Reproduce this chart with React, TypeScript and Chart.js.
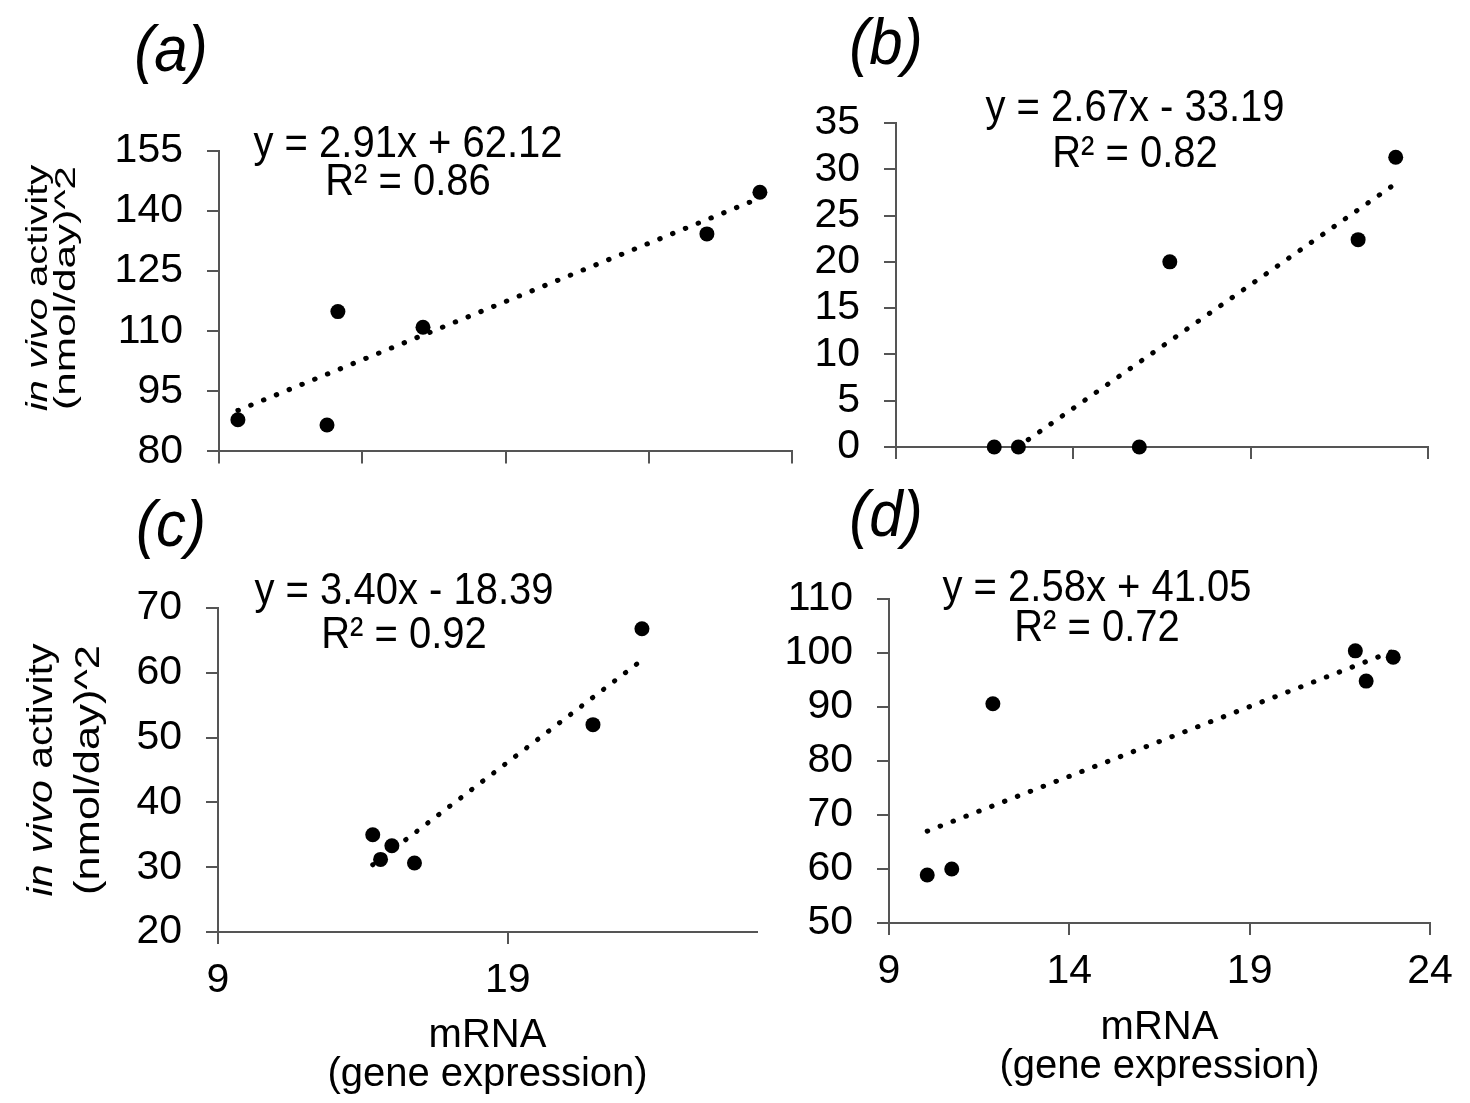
import React, { useEffect, useRef } from 'react';
import { Chart, registerables } from 'chart.js';

Chart.register(...registerables);

const FONT_FAMILY = "'Liberation Sans', Arial, Helvetica, sans-serif";
const AXIS_COLOR = '#555555';

// ---------------- data ----------------
const mrnaA = [9.66, 12.77, 13.15, 16.12, 26.03, 27.88];
const activityA = [87.9, 86.6, 114.9, 111.0, 134.3, 144.7];
const mrnaB = [11.77, 12.45, 15.86, 16.72, 22.03, 23.09];
const activityB = [0, 0, 0, 20.0, 22.4, 31.3];
const mrnaC = [14.34, 14.61, 15.0, 15.78, 21.94, 23.63];
const activityC = [35.0, 31.2, 33.3, 30.65, 52.0, 66.8];
const mrnaD = [10.06, 10.74, 11.88, 21.93, 22.23, 22.98];
const activityD = [58.9, 60.0, 90.6, 100.4, 94.8, 99.2];

const slopes = [2.91, 2.67, 3.4, 2.58];
const intercepts = [62.12, -33.19, -18.39, 41.05];
const rSquared = [0.86, 0.82, 0.92, 0.72];
const panelLabels = ['(a)', '(b)', '(c)', '(d)'];

const xTicksA = [9, 14, 19, 24, 29];
const yTicksA = [80, 95, 110, 125, 140, 155];
const xTicksB = [9, 14, 19, 24];
const yTicksB = [0, 5, 10, 15, 20, 25, 30, 35];
const xTicksC = [9, 19];
const yTicksC = [20, 30, 40, 50, 60, 70];
const xTicksD = [9, 14, 19, 24];
const yTicksD = [50, 60, 70, 80, 90, 100, 110];
const xMaxC = 27.6;

const yTitleItalic = 'in vivo';
const yTitleNormal = ' activity';
const yTitleLine2 = '(nmol/day)^2';
const xTitleLines = ['mRNA', '(gene expression)'];

// ---------------- layout ----------------
interface Box { left: number; top: number; width: number; height: number }
interface Area { l: number; t: number; r: number; b: number }
interface YTitle { x1: number; x2: number; y: number; size: number; sy: number }
interface PanelDef {
  i: number;
  xs: number[];
  ys: number[];
  xTicks: number[];
  yTicks: number[];
  xMin: number;
  xMax: number;
  showXLabels: boolean;
  showXTitle: boolean;
  canvas: Box;
  area: Area;
  xAxisH: number;
  xTitlePadBottom: number;
  letterPos: [number, number];
  eqX: number;
  eqY: [number, number];
  yTitle?: YTitle;
}

const panels: PanelDef[] = [
  {
    i: 0, xs: mrnaA, ys: activityA, xTicks: xTicksA, yTicks: yTicksA,
    xMin: xTicksA[0], xMax: xTicksA[xTicksA.length - 1],
    showXLabels: false, showXTitle: false,
    canvas: { left: 0, top: 0, width: 800, height: 500 },
    area: { l: 219, t: 151, r: 792, b: 456 },
    xAxisH: 30, xTitlePadBottom: 0,
    letterPos: [171, 71], eqX: 408, eqY: [157, 195],
    yTitle: { x1: 39, x2: 67, y: 288, size: 40, sy: 0.72 },
  },
  {
    i: 1, xs: mrnaB, ys: activityB, xTicks: xTicksB, yTicks: yTicksB,
    xMin: xTicksB[0], xMax: xTicksB[xTicksB.length - 1],
    showXLabels: false, showXTitle: false,
    canvas: { left: 780, top: 0, width: 690, height: 500 },
    area: { l: 896, t: 123, r: 1428, b: 447 },
    xAxisH: 30, xTitlePadBottom: 0,
    letterPos: [886, 64], eqX: 1135, eqY: [121, 167],
  },
  {
    i: 2, xs: mrnaC, ys: activityC, xTicks: xTicksC, yTicks: yTicksC,
    xMin: xTicksC[0], xMax: xMaxC,
    showXLabels: true, showXTitle: true,
    canvas: { left: 0, top: 480, width: 780, height: 623 },
    area: { l: 218, t: 608, r: 757, b: 932 },
    xAxisH: 171, xTitlePadBottom: 9,
    letterPos: [171, 546], eqX: 404, eqY: [604, 648],
    yTitle: { x1: 42, x2: 89, y: 770, size: 41, sy: 0.85 },
  },
  {
    i: 3, xs: mrnaD, ys: activityD, xTicks: xTicksD, yTicks: yTicksD,
    xMin: xTicksD[0], xMax: xTicksD[xTicksD.length - 1],
    showXLabels: true, showXTitle: true,
    canvas: { left: 780, top: 480, width: 690, height: 623 },
    area: { l: 889, t: 599, r: 1430, b: 923 },
    xAxisH: 180, xTitlePadBottom: 17,
    letterPos: [886, 536], eqX: 1097, eqY: [601, 641],
  },
];

function eqText(i: number): string {
  const b = intercepts[i];
  return `y = ${slopes[i].toFixed(2)}x ${b < 0 ? '-' : '+'} ${Math.abs(b).toFixed(2)}`;
}
function r2Text(i: number): string {
  return `R\u00B2 = ${rSquared[i].toFixed(2)}`;
}

function drawStretched(
  ctx: CanvasRenderingContext2D,
  text: string,
  x: number,
  y: number,
  font: string,
  sy: number,
) {
  ctx.save();
  ctx.translate(x, y);
  ctx.scale(1, sy);
  ctx.font = font;
  ctx.textAlign = 'center';
  ctx.textBaseline = 'alphabetic';
  ctx.fillStyle = '#000';
  ctx.fillText(text, 0, 0);
  ctx.restore();
}

function makeTextPlugin(p: PanelDef) {
  return {
    id: 'panelText' + p.i,
    afterDraw(chart: any) {
      const ctx: CanvasRenderingContext2D = chart.ctx;
      const ox = p.canvas.left;
      const oy = p.canvas.top;
      drawStretched(ctx, panelLabels[p.i], p.letterPos[0] - ox, p.letterPos[1] - oy, `italic 60px ${FONT_FAMILY}`, 1.08);
      drawStretched(ctx, eqText(p.i), p.eqX - ox, p.eqY[0] - oy, `40px ${FONT_FAMILY}`, 1.12);
      drawStretched(ctx, r2Text(p.i), p.eqX - ox, p.eqY[1] - oy, `40px ${FONT_FAMILY}`, 1.12);

      const yt = p.yTitle;
      if (yt) {
        const fontIt = `italic ${yt.size}px ${FONT_FAMILY}`;
        const fontNo = `${yt.size}px ${FONT_FAMILY}`;
        ctx.save();
        ctx.fillStyle = '#000';
        ctx.translate(yt.x1 - ox, yt.y - oy);
        ctx.rotate(-Math.PI / 2);
        ctx.scale(1, yt.sy);
        ctx.textBaseline = 'middle';
        ctx.textAlign = 'left';
        ctx.font = fontIt;
        const w1 = ctx.measureText(yTitleItalic).width;
        ctx.font = fontNo;
        const w2 = ctx.measureText(yTitleNormal).width;
        const start = -(w1 + w2) / 2;
        ctx.font = fontIt;
        ctx.fillText(yTitleItalic, start, 0);
        ctx.font = fontNo;
        ctx.fillText(yTitleNormal, start + w1, 0);
        ctx.restore();

        ctx.save();
        ctx.fillStyle = '#000';
        ctx.translate(yt.x2 - ox, yt.y - oy);
        ctx.rotate(-Math.PI / 2);
        ctx.scale(1.06, yt.sy);
        ctx.textBaseline = 'middle';
        ctx.textAlign = 'center';
        ctx.font = fontNo;
        ctx.fillText(yTitleLine2, 0, 0);
        ctx.restore();
      }
    },
  };
}

function buildConfig(p: PanelDef): any {
  const pts = p.xs.map((x, k) => ({ x, y: p.ys[k] }));
  const lo = Math.min(...p.xs);
  const hi = Math.max(...p.xs);
  const trend = [lo, hi].map((x) => ({ x, y: slopes[p.i] * x + intercepts[p.i] }));
  const yw = p.area.l - p.canvas.left;
  const padTop = p.area.t - p.canvas.top;
  const padRight = p.canvas.left + p.canvas.width - p.area.r;
  const padBottom = p.canvas.top + p.canvas.height - p.area.b - p.xAxisH;
  const tickFont = { family: FONT_FAMILY, size: 41, lineHeight: 1.2 };
  const grid = {
    display: true,
    drawOnChartArea: false,
    drawTicks: true,
    tickLength: 12,
    tickWidth: 2,
    tickColor: AXIS_COLOR,
    color: AXIS_COLOR,
    lineWidth: 2,
  };
  const border = { display: true, color: AXIS_COLOR, width: 2 };
  return {
    type: 'scatter',
    data: {
      datasets: [
        {
          label: 'trend',
          data: trend,
          showLine: true,
          borderColor: '#000',
          backgroundColor: '#000',
          borderWidth: 5,
          borderDash: [0.5, 13.3],
          borderCapStyle: 'round',
          pointRadius: 0,
          pointHoverRadius: 0,
          fill: false,
          clip: 0,
          order: 0,
        },
        {
          label: 'data',
          data: pts,
          backgroundColor: '#000',
          borderColor: '#000',
          borderWidth: 0,
          pointRadius: 7.5,
          pointHoverRadius: 7.5,
          clip: false,
          order: 1,
        },
      ],
    },
    options: {
      responsive: false,
      animation: false,
      devicePixelRatio: 1,
      events: [],
      layout: { padding: { left: 0, top: padTop, right: padRight, bottom: padBottom } },
      plugins: {
        legend: { display: false },
        tooltip: { enabled: false },
        title: { display: false },
      },
      scales: {
        x: {
          type: 'linear',
          position: 'bottom',
          min: p.xMin,
          max: p.xMax,
          afterBuildTicks: (s: any) => {
            s.ticks = p.xTicks.map((v) => ({ value: v }));
          },
          afterFit: (s: any) => {
            s.height = p.xAxisH;
          },
          grid,
          border,
          ticks: {
            display: p.showXLabels,
            font: tickFont,
            color: '#000',
            padding: 12,
            maxRotation: 0,
            autoSkip: false,
            callback: (v: any) => String(v),
          },
          title: p.showXTitle
            ? {
                display: true,
                text: xTitleLines,
                color: '#000',
                font: { family: FONT_FAMILY, size: 40, lineHeight: 0.97 },
                padding: { top: 0, bottom: p.xTitlePadBottom },
              }
            : { display: false },
        },
        y: {
          type: 'linear',
          position: 'left',
          min: p.yTicks[0],
          max: p.yTicks[p.yTicks.length - 1],
          afterBuildTicks: (s: any) => {
            s.ticks = p.yTicks.map((v) => ({ value: v }));
          },
          afterFit: (s: any) => {
            s.width = yw;
          },
          grid,
          border,
          ticks: {
            font: tickFont,
            color: '#000',
            padding: 24,
            autoSkip: false,
            callback: (v: any) => String(v),
          },
        },
      },
    },
    plugins: [makeTextPlugin(p)],
  };
}

function Panel({ p }: { p: PanelDef }) {
  const ref = useRef<HTMLCanvasElement>(null);
  useEffect(() => {
    const canvas = ref.current;
    if (!canvas) return;
    const chart = new Chart(canvas, buildConfig(p));
    return () => {
      chart.destroy();
    };
  }, [p]);
  return (
    <canvas
      ref={ref}
      width={p.canvas.width}
      height={p.canvas.height}
      style={{
        position: 'absolute',
        left: p.canvas.left,
        top: p.canvas.top,
        width: p.canvas.width,
        height: p.canvas.height,
      }}
    />
  );
}

export default function App() {
  return (
    <div
      style={{
        position: 'absolute',
        left: 0,
        top: 0,
        width: 1470,
        height: 1103,
        background: '#ffffff',
        overflow: 'hidden',
      }}
    >
      {panels.map((p) => (
        <Panel key={p.i} p={p} />
      ))}
    </div>
  );
}
